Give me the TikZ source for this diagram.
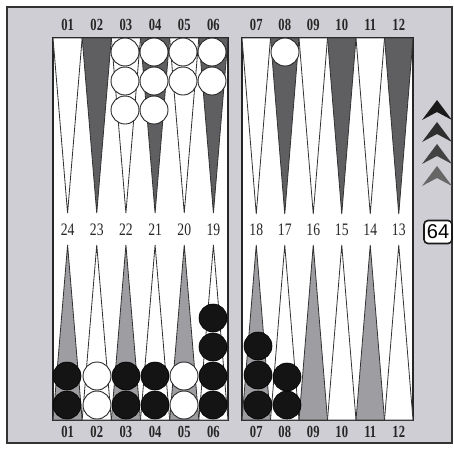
\documentclass[tikz,border=0pt]{standalone}
\usepackage{fontspec}
\setmainfont{Liberation Serif}
\newfontfamily\cubefont{Liberation Sans}
\definecolor{bgcol}{RGB}{206,206,212}
\definecolor{darkpt}{RGB}{95,95,98}
\definecolor{lightpt}{RGB}{158,158,162}
\begin{document}
\begin{tikzpicture}[x=1pt,y=-1pt,
  board/.style={draw=black!85, line width=1.4pt, fill=white},
  ptdark/.style={draw=black!80, line width=0.8pt, fill=darkpt},
  ptlight/.style={draw=black!80, line width=0.8pt, fill=lightpt},
  ptwhite/.style={draw=black!80, line width=0.8pt, fill=white},
  wchk/.style={draw=black!85, line width=0.9pt, fill=white},
  bchk/.style={draw=black, line width=0.6pt, fill=black!92},
  lbl/.style={font=\fontsize{17.5}{17.5}\selectfont, xscale=0.78, text=black!85, inner sep=0pt},
  lblb/.style={font=\bfseries\fontsize{17}{17}\selectfont, xscale=0.74, text=black!85, inner sep=0pt},
  cubebox/.style={draw=black!90, line width=1.6pt, rounded corners=4pt, fill=white,
    minimum width=28pt, minimum height=23pt, inner sep=0pt,
    font=\cubefont\fontsize{20}{20}\selectfont}
]
\useasboundingbox (0,0) rectangle (454,448);
\fill[white] (0,0) rectangle (454,448);
\draw[fill=bgcol, line width=1.2pt, draw=black!80] (7,7) rectangle (452,443);
% boards
\draw[board] (53,38) rectangle (228,420);
\draw[board] (242,38) rectangle (413,420);
% left board points
\foreach \i in {1,...,6}{
  \pgfmathsetmacro{\L}{53+(\i-1)*175/6}
  \pgfmathsetmacro{\R}{53+\i*175/6}
  \pgfmathsetmacro{\C}{53+(\i-0.5)*175/6}
  \ifodd\i
    \draw[ptwhite] (\L,38) -- (\R,38) -- (\C,213) -- cycle;
    \draw[ptlight] (\L,420) -- (\R,420) -- (\C,245) -- cycle;
  \else
    \draw[ptdark] (\L,38) -- (\R,38) -- (\C,213) -- cycle;
    \draw[ptwhite] (\L,420) -- (\R,420) -- (\C,245) -- cycle;
  \fi
}
% right board points
\foreach \i in {1,...,6}{
  \pgfmathsetmacro{\L}{242+(\i-1)*171/6}
  \pgfmathsetmacro{\R}{242+\i*171/6}
  \pgfmathsetmacro{\C}{242+(\i-0.5)*171/6}
  \ifodd\i
    \draw[ptwhite] (\L,38) -- (\R,38) -- (\C,214) -- cycle;
    \draw[ptlight] (\L,420) -- (\R,420) -- (\C,245) -- cycle;
  \else
    \draw[ptdark] (\L,38) -- (\R,38) -- (\C,214) -- cycle;
    \draw[ptwhite] (\L,420) -- (\R,420) -- (\C,245) -- cycle;
  \fi
}
% labels left board
\foreach \i/\t/\m in {1/01/24,2/02/23,3/03/22,4/04/21,5/05/20,6/06/19}{
  \pgfmathsetmacro{\C}{53+(\i-0.5)*175/6}
  \node[lblb] (tl\t) at (\C,25) {\t};
  \node[lbl] (ml\m) at (\C,230) {\m};
  \node[lblb] (bl\t) at (\C,432) {\t};
}
\foreach \i/\t/\m in {1/07/18,2/08/17,3/09/16,4/10/15,5/11/14,6/12/13}{
  \pgfmathsetmacro{\C}{242+(\i-0.5)*171/6}
  \node[lblb] (tl\t) at (\C,25) {\t};
  \node[lbl] (ml\m) at (\C,230) {\m};
  \node[lblb] (bl\t) at (\C,432) {\t};
}
% white checkers top
\foreach \x/\y in {125/52,125/81,125/110,154/52,154/81,154/110,183/52,183/81,212/52,212/81,285/52}{
  \draw[wchk] (\x,\y) circle[radius=14pt];
}
% bottom checkers
\foreach \x/\y in {67/405,67/376,126/405,126/376,155/405,155/376,
  213/405,213/376,213/347,213/318,258/405,258/375,258/346,287/405,287/377}{
  \draw[bchk] (\x,\y) circle[radius=14pt];
}
\foreach \x/\y in {97/405,97/376,184/405,184/376}{
  \draw[wchk] (\x,\y) circle[radius=14pt];
}
% chevrons
\foreach \k/\c in {0/black!90,1/black!82,2/black!74,3/black!60}{
  \fill[\c] (437,{100+22*\k}) -- ++(15,20) -- ++(-15,-8) -- ++(-15,8) -- cycle;
}
% cube
\node[cubebox] (cube) at (438,232) {64};
\end{tikzpicture}
\end{document}
